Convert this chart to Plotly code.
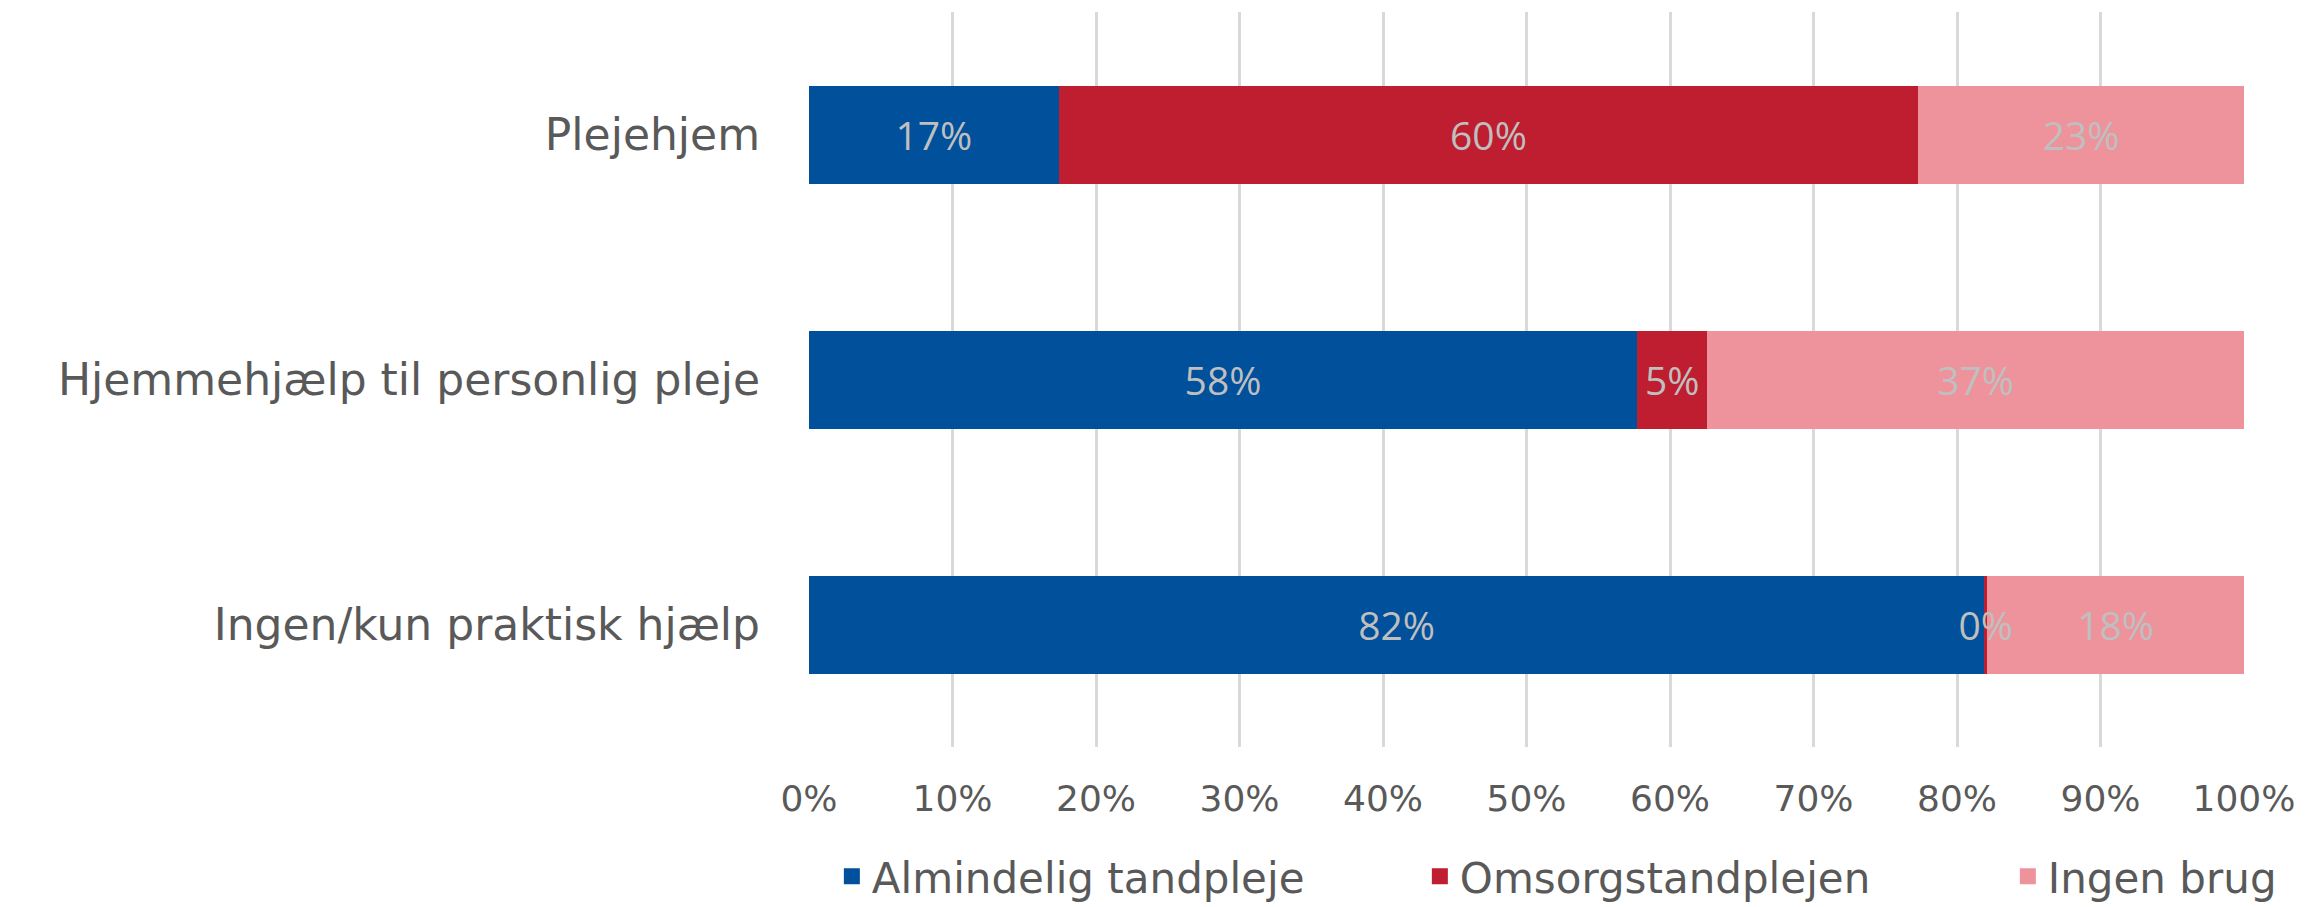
import plotly.graph_objects as go

# ---- data ----
categories = ["Plejehjem", "Hjemmehjælp til personlig pleje", "Ingen/kun praktisk hjælp"]
series_names = ["Almindelig tandpleje", "Omsorgstandplejen", "Ingen brug"]
almindelig = [17.4, 57.7, 81.9]
omsorg = [59.9, 4.9, 0.2]
ingen_brug = [22.7, 37.4, 17.9]
x_tick_values = [0, 10, 20, 30, 40, 50, 60, 70, 80, 90, 100]
x_tick_labels = ["0%", "10%", "20%", "30%", "40%", "50%", "60%", "70%", "80%", "90%", "100%"]

series_values = [almindelig, omsorg, ingen_brug]
colors = ["#00509B", "#BE1E2F", "#EE939C"]
layer = [0, 1, 0]  # draw the middle series' labels above the pink segments

AXIS_FONT = "DejaVu Sans"
LABEL_FONT = "Open Sans"
TEXT_GREY = "#595959"

fig = go.Figure()
for name, vals, col, z in zip(series_names, series_values, colors, layer):
    fig.add_trace(go.Bar(
        y=categories, x=vals, name=name, orientation="h",
        marker=dict(color=col, line=dict(width=0)),
        text=[f"{v:.0f}%" for v in vals],
        textposition="inside", insidetextanchor="middle", textangle=0,
        textfont=dict(family=LABEL_FONT, size=39, color="#BFBFBF"),
        legendgroup=name, showlegend=False, hoverinfo="x+name",
        zorder=z,
    ))
# legend proxies (larger square swatches)
for name, col in zip(series_names, colors):
    fig.add_trace(go.Scatter(
        x=[None], y=[None], mode="markers", name=name, legendgroup=name,
        marker=dict(symbol="square", size=16, color=col), showlegend=True,
    ))

fig.update_layout(
    barmode="stack",
    bargap=0.6,
    width=2310, height=907,
    margin=dict(l=809, r=66, t=12, b=160, autoexpand=False),
    paper_bgcolor="white", plot_bgcolor="white",
    uniformtext=dict(minsize=39, mode="show"),
    legend=dict(
        orientation="h", x=-0.0001, xanchor="left", y=-0.176, yanchor="middle",
        font=dict(family=AXIS_FONT, size=42, color=TEXT_GREY),
        entrywidth=520, entrywidthmode="pixels", itemsizing="trace",
        traceorder="normal", indentation=23,
    ),
    xaxis=dict(
        range=[0, 100], tickvals=x_tick_values, ticktext=x_tick_labels,
        showgrid=True, gridcolor="#D9D9D9", gridwidth=3,
        zeroline=False, showline=False, ticks="",
        tickfont=dict(family=AXIS_FONT, size=36, color=TEXT_GREY),
        ticklabelstandoff=27, automargin=False, fixedrange=True,
    ),
    yaxis=dict(
        categoryorder="array", categoryarray=categories, autorange="reversed",
        showgrid=False, zeroline=False, showline=False, ticks="",
        tickfont=dict(family=AXIS_FONT, size=44, color=TEXT_GREY),
        ticklabelstandoff=48, automargin=False, fixedrange=True,
    ),
)

fig.write_html(
    "out.html",
    config={"displayModeBar": False},
    post_script="document.body.style.margin='0';document.body.style.overflow='hidden';",
)
